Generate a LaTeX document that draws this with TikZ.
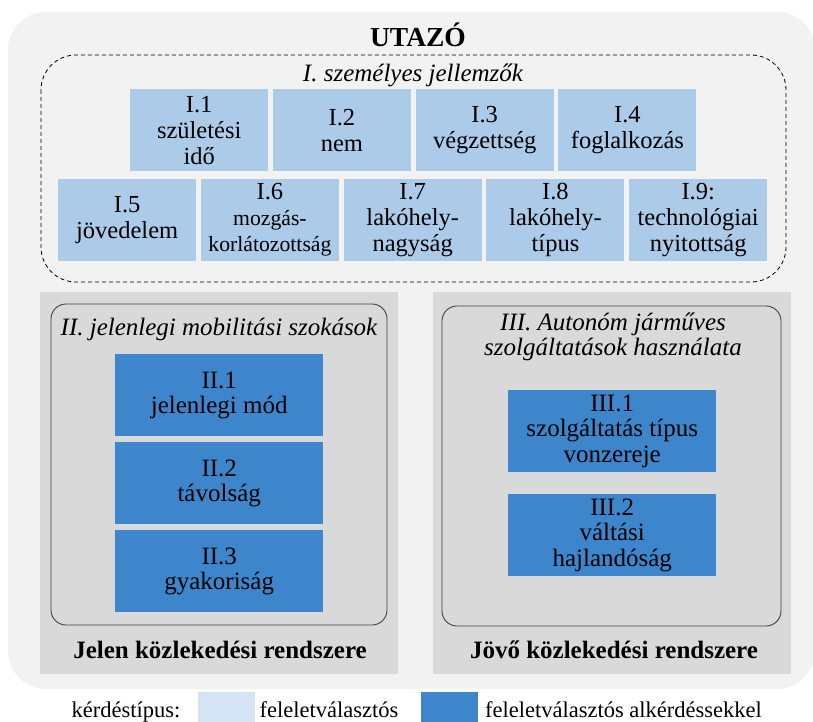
\documentclass[tikz,border=0pt]{standalone}
\usepackage{fontspec}
\setmainfont{Liberation Serif}
\definecolor{outerbg}{HTML}{F2F2F2}
\definecolor{panelbg}{HTML}{D9D9D9}
\definecolor{lightbox}{HTML}{ABCBE9}
\definecolor{legendlight}{HTML}{D5E4F4}
\definecolor{darkbox}{HTML}{3D86CB}
\definecolor{framegray}{HTML}{404040}
\tikzset{
  lbox/.style={fill=lightbox, minimum width=138pt, minimum height=82pt, inner sep=0pt,
    anchor=north west, align=center, font={\fontsize{24.5}{26}\selectfont}},
  dbox/.style={fill=darkbox, minimum width=208pt, minimum height=82pt, inner sep=0pt,
    anchor=north west, align=center, font={\fontsize{25}{25.5}\selectfont}},
  ititle/.style={font={\itshape\fontsize{25}{25}\selectfont}, inner sep=0pt, anchor=base},
  btitle/.style={font={\bfseries\fontsize{25}{25}\selectfont}, inner sep=0pt, anchor=base},
  legtext/.style={font={\fontsize{22.5}{22.5}\selectfont}, inner sep=0pt, anchor=base},
  panelframe/.style={draw=framegray, line width=0.9pt, rounded corners=15pt},
}
\begin{document}
\begin{tikzpicture}[x=1pt,y=-1pt]
\useasboundingbox (0,0) rectangle (813,722);
\clip (0,0) rectangle (813,722);
% outer frame
\fill[outerbg, rounded corners=38pt] (8,12) rectangle (815,689);
\node[font={\bfseries\fontsize{27.5}{27.5}\selectfont}, inner sep=0pt, anchor=base] (utazo) at (418,47) {UTAZÓ};
% personal characteristics
\draw[dash pattern=on 4pt off 3pt, line width=0.8pt, rounded corners=35pt] (41,55) rectangle (786,282);
\node[ititle] (t1) at (413,82) {I. személyes jellemzők};
\node[lbox] (i1) at (130,89) {I.1\\születési\\idő};
\node[lbox] (i2) at (272.75,89) {I.2\\nem};
\node[lbox] (i3) at (415.5,89) {I.3\\végzettség};
\node[lbox] (i4) at (558.25,89) {I.4\\foglalkozás};
\node[lbox] (i5) at (58,179) {I.5\\jövedelem};
\node[lbox] (i6) at (200.75,179) {I.6\\{\fontsize{21.7}{24}\selectfont mozgás-}\\{\fontsize{21.7}{24}\selectfont korlátozottság}};
\node[lbox] (i7) at (343.5,179) {I.7\\lakóhely-\\nagyság};
\node[lbox] (i8) at (486.25,179) {I.8\\lakóhely-\\típus};
\node[lbox] (i9) at (629,179) {I.9:\\technológiai\\nyitottság};
% left panel
\fill[panelbg] (40,292) rectangle (398,674);
\draw[panelframe] (51,304) rectangle (387,625);
\node[ititle] (t2) at (219,335) {II. jelenlegi mobilitási szokások};
\node[dbox] (ii1) at (115,354) {II.1\\jelenlegi mód};
\node[dbox] (ii2) at (115,442) {II.2\\távolság};
\node[dbox] (ii3) at (115,530) {II.3\\gyakoriság};
\node[btitle] (b1) at (220,658) {Jelen közlekedési rendszere};
% right panel
\fill[panelbg] (433,292) rectangle (791,674);
\draw[panelframe] (442,306) rectangle (781,626);
\node[ititle] (t3a) at (613,330) {III. Autonóm járműves};
\node[ititle] (t3b) at (613,355) {szolgáltatások használata};
\node[dbox] (iii1) at (508,390) {III.1\\szolgáltatás típus\\vonzereje};
\node[dbox] (iii2) at (508,494) {III.2\\váltási\\hajlandóság};
\node[btitle] (b2) at (614,658) {Jövő közlekedési rendszere};
% legend
\node[legtext] (lg) at (126,717) {kérdéstípus:};
\node[fill=legendlight, minimum width=57pt, minimum height=30pt, inner sep=0pt, anchor=north west] (sq1) at (198,692) {};
\node[legtext] (lg1) at (329,717) {feleletválasztós};
\node[fill=darkbox, minimum width=57pt, minimum height=30pt, inner sep=0pt, anchor=north west] (sq2) at (421,692) {};
\node[legtext] (lg2) at (623.5,717) {feleletválasztós alkérdéssekkel};
\end{tikzpicture}
\end{document}
